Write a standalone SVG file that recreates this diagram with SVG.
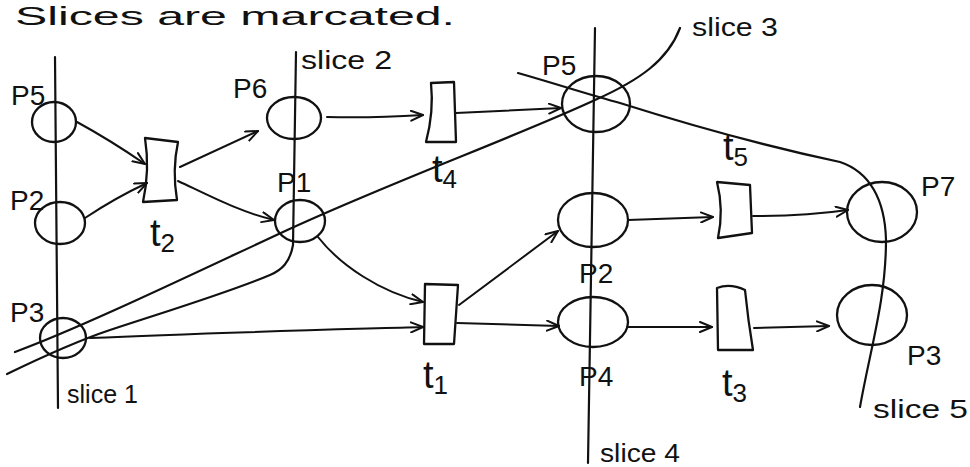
<svg xmlns="http://www.w3.org/2000/svg" width="970" height="467" viewBox="0 0 970 467">
<defs>
<style>
.ln{fill:none;stroke:#111;stroke-width:2.2;stroke-linecap:round;stroke-linejoin:round}
.arc{fill:none;stroke:#111;stroke-width:2;stroke-linecap:round;marker-end:url(#ah)}
.pl{fill:none;stroke:#111;stroke-width:2.3}
.tr{fill:none;stroke:#111;stroke-width:2.3;stroke-linejoin:round}
.lb{font-family:"Liberation Sans","DejaVu Sans",sans-serif;fill:#111;font-size:28px}
.tl{font-family:"Liberation Sans","DejaVu Sans",sans-serif;fill:#111;font-size:38px}
.sl{font-family:"Liberation Sans","DejaVu Sans",sans-serif;fill:#111;font-size:26px}
</style>
<marker id="ah" viewBox="0 0 14 12" refX="13" refY="6" markerWidth="14" markerHeight="12" markerUnits="userSpaceOnUse" orient="auto">
<path d="M1,1 L13,6 L1,11" fill="none" stroke="#111" stroke-width="2" stroke-linecap="round" stroke-linejoin="round"/>
</marker>
</defs>
<rect width="970" height="467" fill="#fff"/>
<text class="sl" x="15" y="25" font-size="25" textLength="440" lengthAdjust="spacingAndGlyphs">Slices are marcated.</text>

<g id="slices">
<path id="slice1" class="ln" d="M55,57 L58,408"/>
<path id="slice2" class="ln" d="M296,52 L293,245 C290,262 282,270 270,275 C230,292 180,307 110,330 C80,340 40,358 7,374"/>
<path id="slice3" class="ln" d="M15,352 C80,328 180,280 283,232 S520,135 595,100 C640,80 668,60 680,28"/>
<path id="slice4" class="ln" d="M595,28 L588,463"/>
<path id="slice5" class="ln" d="M518,73 C560,85 590,95 620,103 C680,122 760,145 840,162 C870,172 885,200 886,240 C886,300 870,350 860,407"/>
<text class="sl" x="67" y="403" textLength="71" lengthAdjust="spacingAndGlyphs">slice 1</text>
<text class="sl" x="301" y="69" textLength="91" lengthAdjust="spacingAndGlyphs">slice 2</text>
<text class="sl" x="692" y="36" textLength="86" lengthAdjust="spacingAndGlyphs">slice 3</text>
<text class="sl" x="600" y="462" textLength="80" lengthAdjust="spacingAndGlyphs">slice 4</text>
<text class="sl" x="873" y="418" font-size="30" textLength="95" lengthAdjust="spacingAndGlyphs">slice 5</text>
</g>

<g id="connectors">
<path class="arc" d="M77,122 Q110,140 145,164"/>
<path class="arc" d="M85,218 Q115,198 147,183"/>
<path class="arc" d="M180,167 L258,131"/>
<path class="arc" d="M178,181 C210,196 240,212 274,220"/>
<path class="arc" d="M327,117 C360,118 390,117 423,115"/>
<path class="arc" d="M456,113 L561,108"/>
<path class="arc" d="M318,237 C340,265 380,292 423,302"/>
<path class="arc" d="M90,338 C200,333 320,330 423,327"/>
<path class="arc" d="M459,305 L558,231"/>
<path class="arc" d="M457,323 L559,326"/>
<path class="arc" d="M628,220 L713,217"/>
<path class="arc" d="M753,216 C790,216 820,214 848,210"/>
<path class="arc" d="M627,327 L712,327"/>
<path class="arc" d="M754,328 L829,326"/>
</g>

<g id="p5a"><ellipse class="pl" cx="54" cy="122" rx="22" ry="20"/><text class="lb" x="11" y="105">P5</text></g>
<g id="p2a"><ellipse class="pl" cx="60" cy="223" rx="25" ry="21"/><text class="lb" x="10" y="210">P2</text></g>
<g id="p3a"><ellipse class="pl" cx="63" cy="338" rx="23" ry="20"/><text class="lb" x="10" y="322">P3</text></g>
<g id="p6"><ellipse class="pl" cx="294" cy="118" rx="27" ry="21"/><text class="lb" x="233" y="98">P6</text></g>
<g id="p1"><ellipse class="pl" cx="300" cy="221" rx="25" ry="21"/><text class="lb" x="277" y="192">P1</text></g>
<g id="p5b"><ellipse class="pl" cx="596" cy="104" rx="34" ry="28"/><text class="lb" x="542" y="75">P5</text></g>
<g id="p2b"><ellipse class="pl" cx="593" cy="220" rx="35" ry="27"/><text class="lb" x="579" y="283">P2</text></g>
<g id="p4"><ellipse class="pl" cx="593" cy="322" rx="35" ry="25"/><text class="lb" x="579" y="386">P4</text></g>
<g id="p7"><ellipse class="pl" cx="882" cy="212" rx="35" ry="30"/><text class="lb" x="921" y="196">P7</text></g>
<g id="p3b"><ellipse class="pl" cx="872" cy="315" rx="35" ry="30"/><text class="lb" x="907" y="365">P3</text></g>

<g id="t2"><path class="tr" d="M145,138 L178,142 Q172,170 177,200 L143,202 Q150,170 145,138 Z"/><text class="tl" x="150" y="246">t<tspan font-size="26" dy="6">2</tspan></text></g>
<g id="t4"><path class="tr" d="M431,83 L454,82 L456,142 L426,142 Q434,112 431,83 Z"/><text class="tl" x="432" y="182">t<tspan font-size="26" dy="6">4</tspan></text></g>
<g id="t1"><path class="tr" d="M425,284 L458,285 L454,344 L424,344 Z"/><text class="tl" x="423" y="388">t<tspan font-size="26" dy="6">1</tspan></text></g>
<g id="t5"><path class="tr" d="M717,182 L750,185 L752,233 L718,238 Q724,210 717,182 Z"/><text class="tl" x="723" y="160">t<tspan font-size="26" dy="6">5</tspan></text></g>
<g id="t3"><path class="tr" d="M717,288 Q730,283 745,290 Q748,320 753,350 L718,350 Z"/><text class="tl" x="722" y="396">t<tspan font-size="26" dy="6">3</tspan></text></g>
</svg>
